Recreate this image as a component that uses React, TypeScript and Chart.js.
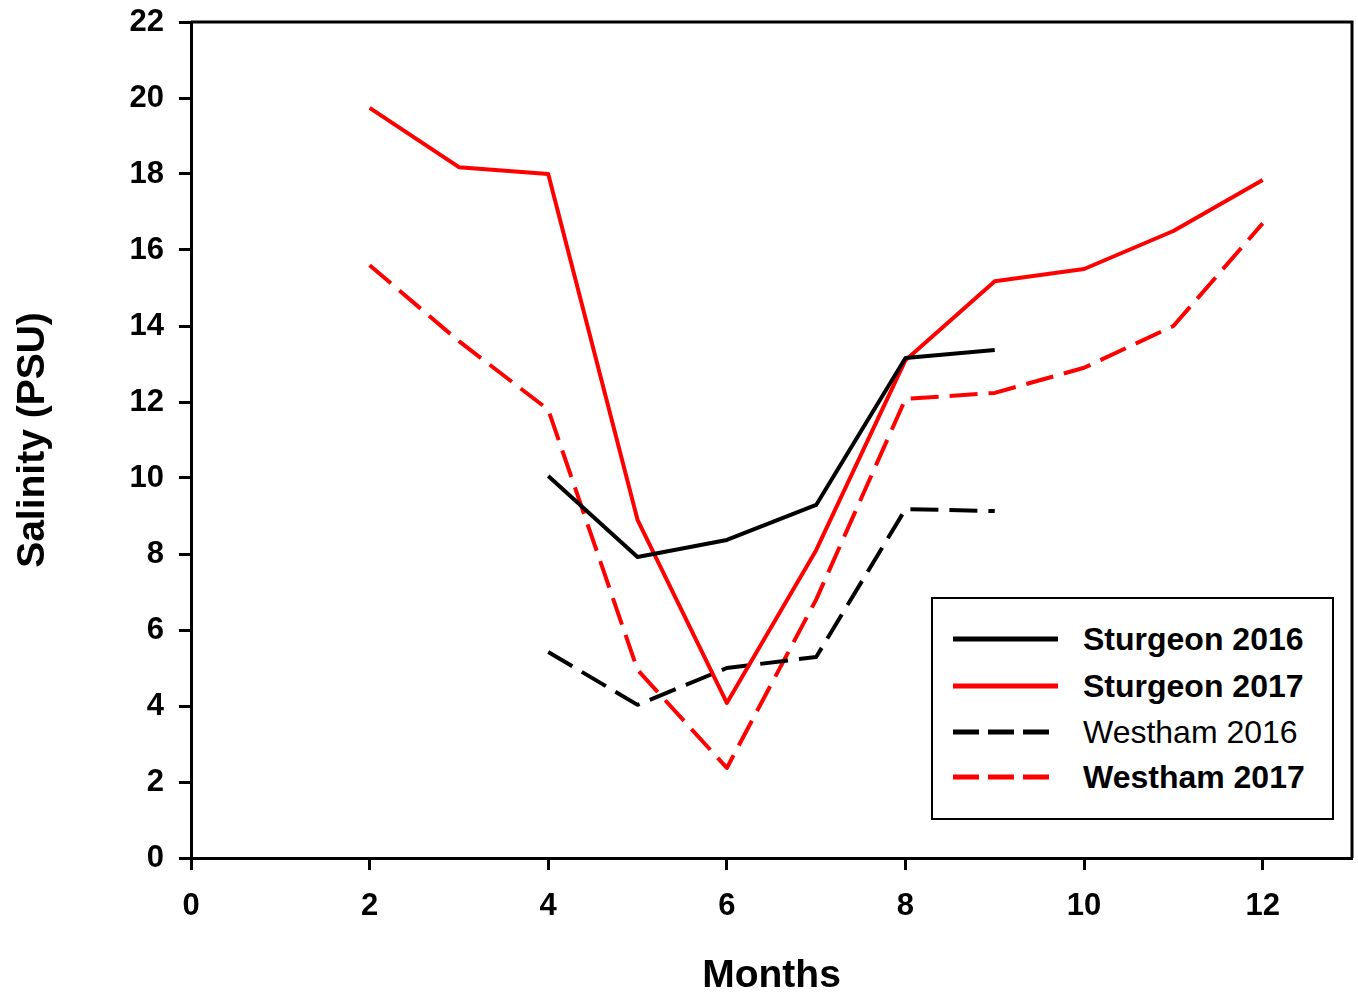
import React, { useEffect, useRef } from "react";
import { Chart, registerables } from "chart.js";

Chart.register(...registerables);

// ---- Data ----
const months2016 = [4, 5, 6, 7, 8, 9];
const months2017 = [2, 3, 4, 5, 6, 7, 8, 9, 10, 11, 12];
const sturgeon2016 = [10.05, 7.92, 8.37, 9.29, 13.16, 13.37];
const westham2016 = [5.42, 4.03, 5.0, 5.29, 9.18, 9.13];
const sturgeon2017 = [19.74, 18.18, 18.0, 8.9, 4.08, 8.1, 13.1, 15.18, 15.5, 16.5, 17.84];
const westham2017 = [15.6, 13.6, 11.8, 4.95, 2.37, 6.8, 12.08, 12.24, 12.9, 14.0, 16.7];
const xTickValues = [0, 2, 4, 6, 8, 10, 12];
const yTickValues = [0, 2, 4, 6, 8, 10, 12, 14, 16, 18, 20, 22];
const seriesNames = ["Sturgeon 2016", "Sturgeon 2017", "Westham 2016", "Westham 2017"];

const FONT = "'Liberation Sans', Arial, Helvetica, sans-serif";
const DASH = [28, 11];

const toPoints = (xs: number[], ys: number[]) => xs.map((x, i) => ({ x, y: ys[i] }));

const seriesDefs = [
  { label: seriesNames[0], data: toPoints(months2016, sturgeon2016), color: "#000000", dash: [] as number[], bold: true },
  { label: seriesNames[1], data: toPoints(months2017, sturgeon2017), color: "#ff0000", dash: [] as number[], bold: true },
  { label: seriesNames[2], data: toPoints(months2016, westham2016), color: "#000000", dash: DASH, bold: false },
  { label: seriesNames[3], data: toPoints(months2017, westham2017), color: "#ff0000", dash: DASH, bold: true },
];

const frameBox = {
  id: "frameBox",
  afterDraw(chart: any) {
    const { ctx, chartArea } = chart;
    ctx.save();
    ctx.strokeStyle = "#000";
    ctx.lineWidth = 3;
    ctx.beginPath();
    ctx.moveTo(chartArea.left, chartArea.top);
    ctx.lineTo(chartArea.right, chartArea.top);
    ctx.lineTo(chartArea.right, chartArea.bottom);
    ctx.stroke();
    ctx.restore();
  },
};

export default function App() {
  const canvasRef = useRef<HTMLCanvasElement | null>(null);

  useEffect(() => {
    if (!canvasRef.current) return;
    const chart = new Chart(canvasRef.current, {
      type: "line",
      data: {
        datasets: seriesDefs.map((s) => ({
          label: s.label,
          data: s.data,
          borderColor: s.color,
          backgroundColor: s.color,
          borderWidth: 4,
          borderDash: s.dash,
          borderJoinStyle: "round" as const,
          pointRadius: 0,
          tension: 0,
          fill: false,
        })),
      },
      options: {
        responsive: false,
        animation: false,
        layout: { padding: { top: 22, right: 6, left: 0, bottom: 0 } },
        plugins: { legend: { display: false }, tooltip: { enabled: false } },
        scales: {
          x: {
            type: "linear",
            min: 0,
            max: 13,
            afterBuildTicks: (scale: any) => {
              scale.ticks = xTickValues.map((v) => ({ value: v }));
            },
            afterFit: (scale: any) => {
              scale.height = 144;
              scale.paddingLeft = 0;
              scale.paddingRight = 0;
            },
            grid: {
              display: true,
              drawOnChartArea: false,
              drawTicks: true,
              tickLength: 12,
              tickColor: "#000",
              tickWidth: 3,
            },
            border: { display: true, color: "#000", width: 3 },
            ticks: {
              color: "#000",
              padding: 18,
              maxRotation: 0,
              font: { family: FONT, size: 31, weight: "bold" },
            },
            title: {
              display: true,
              text: "Months",
              color: "#000",
              padding: { top: 0, bottom: 2 },
              font: { family: FONT, size: 39, weight: "bold" },
            },
          },
          y: {
            type: "linear",
            min: 0,
            max: 22,
            afterBuildTicks: (scale: any) => {
              scale.ticks = yTickValues.map((v) => ({ value: v }));
            },
            afterFit: (scale: any) => {
              scale.width = 191;
              scale.paddingTop = 0;
              scale.paddingBottom = 0;
            },
            grid: {
              display: true,
              drawOnChartArea: false,
              drawTicks: true,
              tickLength: 12,
              tickColor: "#000",
              tickWidth: 3,
            },
            border: { display: true, color: "#000", width: 3 },
            ticks: {
              color: "#000",
              padding: 15,
              font: { family: FONT, size: 31, weight: "bold" },
            },
            title: {
              display: true,
              text: "Salinity (PSU)",
              color: "#000",
              padding: { top: 10, bottom: 0 },
              font: { family: FONT, size: 39, weight: "bold" },
            },
          },
        },
      },
      plugins: [frameBox],
    });
    return () => chart.destroy();
  }, []);

  const rowCenters = [639, 686, 732, 777];

  return (
    <div style={{ position: "absolute", left: 0, top: 0, width: 1358, height: 1002, background: "#fff" }}>
      <canvas ref={canvasRef} width={1358} height={1002} style={{ position: "absolute", left: 0, top: 0 }} />
      <div
        style={{
          position: "absolute",
          left: 931,
          top: 597,
          width: 403,
          height: 223,
          boxSizing: "border-box",
          border: "2px solid #000",
          background: "#fff",
        }}
      />
      {seriesDefs.map((s, i) => (
        <div key={s.label}>
          <svg
            width={110}
            height={10}
            style={{ position: "absolute", left: 951, top: rowCenters[i] - 5 }}
          >
            <line
              x1={2}
              y1={5}
              x2={107}
              y2={5}
              stroke={s.color}
              strokeWidth={5}
              strokeDasharray={s.dash.length ? "26 9" : undefined}
            />
          </svg>
          <div
            style={{
              position: "absolute",
              left: 1083,
              top: rowCenters[i] - 20,
              height: 40,
              lineHeight: "40px",
              fontFamily: FONT,
              fontSize: 32,
              fontWeight: s.bold ? "bold" : "normal",
              color: "#000",
              whiteSpace: "nowrap",
            }}
          >
            {s.label}
          </div>
        </div>
      ))}
    </div>
  );
}
